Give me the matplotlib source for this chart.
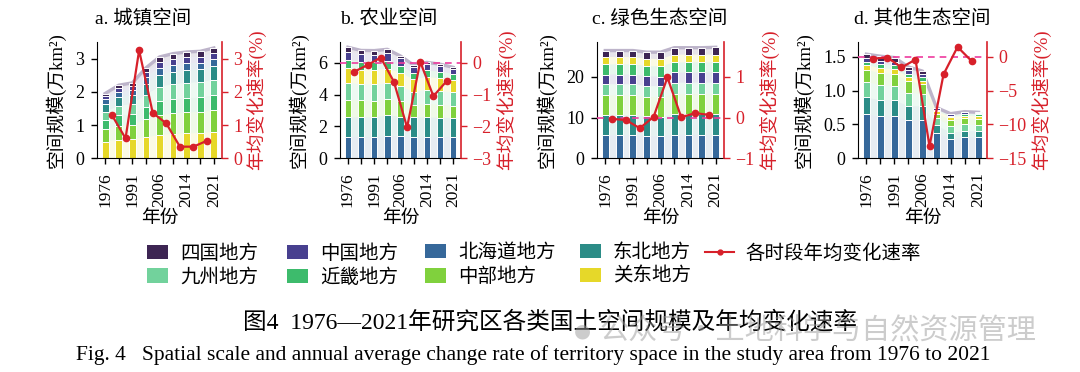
import matplotlib.pyplot as plt
from matplotlib.lines import Line2D
from matplotlib.patches import Patch
import numpy as np

plt.rcParams['font.family'] = ['Liberation Serif', 'Noto Sans CJK SC']
plt.rcParams['axes.unicode_minus'] = True

W, H = 1080, 372

years = ['1976', '1987', '1991', '1997', '2006', '2009', '2014', '2016', '2021']
tick_labels = ['1976', '', '1991', '', '2006', '', '2014', '', '2021']

colors = {
    '四国地方': '#3d2553',
    '中国地方': '#48408f',
    '北海道地方': '#36689a',
    '东北地方': '#2b8c87',
    '九州地方': '#72d29c',
    '近畿地方': '#3dbb6c',
    '中部地方': '#80d13d',
    '关东地方': '#e6d829',
}

# a. 城镇空间 (万km2), stack order bottom -> top
town = {
    '关东地方': [0.50, 0.56, 0.57, 0.63, 0.70, 0.73, 0.75, 0.76, 0.80],
    '中部地方': [0.37, 0.42, 0.44, 0.54, 0.60, 0.62, 0.63, 0.63, 0.66],
    '近畿地方': [0.28, 0.31, 0.32, 0.38, 0.42, 0.43, 0.43, 0.44, 0.44],
    '九州地方': [0.25, 0.29, 0.30, 0.37, 0.43, 0.45, 0.46, 0.46, 0.47],
    '东北地方': [0.23, 0.26, 0.27, 0.33, 0.37, 0.38, 0.39, 0.39, 0.40],
    '北海道地方': [0.15, 0.17, 0.17, 0.20, 0.20, 0.20, 0.20, 0.20, 0.21],
    '中国地方': [0.09, 0.11, 0.11, 0.14, 0.17, 0.18, 0.18, 0.18, 0.19],
    '四国地方': [0.08, 0.08, 0.09, 0.13, 0.16, 0.16, 0.16, 0.16, 0.15],
}
town_rate = [1.30, 0.60, 3.25, 1.37, 1.05, 0.35, 0.35, 0.53]

# b. 农业空间
farm = {
    '北海道地方': [1.35, 1.33, 1.33, 1.42, 1.38, 1.35, 1.35, 1.33, 1.33],
    '东北地方': [1.22, 1.24, 1.24, 1.27, 1.24, 1.22, 1.22, 1.21, 1.20],
    '中部地方': [1.12, 1.06, 1.05, 1.02, 0.95, 0.78, 0.85, 0.82, 0.78],
    '九州地方': [1.05, 1.02, 1.02, 1.00, 0.95, 0.82, 0.88, 0.86, 0.84],
    '关东地方': [0.95, 0.92, 0.92, 0.90, 0.86, 0.78, 0.80, 0.80, 0.78],
    '近畿地方': [0.50, 0.48, 0.48, 0.47, 0.44, 0.40, 0.42, 0.41, 0.38],
    '中国地方': [0.50, 0.47, 0.47, 0.50, 0.45, 0.38, 0.38, 0.36, 0.30],
    '四国地方': [0.28, 0.25, 0.25, 0.26, 0.15, 0.12, 0.12, 0.12, 0.10],
}
farm_rate = [-0.28, -0.07, 0.16, -0.60, -2.03, 0.03, -1.05, -0.58]

# c. 绿色生态空间
green = {
    '北海道地方': [5.7, 5.7, 5.7, 5.5, 5.4, 5.8, 5.8, 5.8, 5.8],
    '东北地方': [4.9, 4.9, 4.9, 4.8, 4.8, 5.0, 5.0, 5.0, 5.0],
    '中部地方': [4.9, 4.9, 4.9, 4.8, 4.8, 5.0, 5.0, 5.0, 5.0],
    '九州地方': [2.7, 2.7, 2.7, 2.7, 2.7, 2.8, 2.8, 2.8, 2.8],
    '中国地方': [2.4, 2.4, 2.4, 2.4, 2.4, 2.5, 2.5, 2.5, 2.5],
    '近畿地方': [2.5, 2.5, 2.5, 2.5, 2.5, 2.5, 2.5, 2.5, 2.5],
    '关东地方': [1.8, 1.8, 1.8, 1.8, 1.8, 1.9, 1.9, 1.9, 1.9],
    '四国地方': [1.6, 1.6, 1.6, 1.6, 1.7, 1.7, 1.7, 1.7, 1.8],
}
green_rate = [-0.03, -0.06, -0.26, 0.02, 0.99, 0.01, 0.11, 0.07]

# d. 其他生态空间
other = {
    '北海道地方': [0.65, 0.62, 0.62, 0.56, 0.57, 0.38, 0.29, 0.31, 0.31],
    '东北地方': [0.25, 0.24, 0.24, 0.21, 0.20, 0.11, 0.09, 0.09, 0.09],
    '九州地方': [0.23, 0.22, 0.21, 0.20, 0.18, 0.10, 0.10, 0.10, 0.09],
    '中部地方': [0.18, 0.18, 0.18, 0.17, 0.15, 0.07, 0.09, 0.09, 0.09],
    '关东地方': [0.07, 0.07, 0.07, 0.06, 0.05, 0.04, 0.04, 0.04, 0.04],
    '近畿地方': [0.05, 0.06, 0.06, 0.05, 0.05, 0.02, 0.02, 0.03, 0.03],
    '中国地方': [0.05, 0.05, 0.05, 0.05, 0.05, 0.02, 0.02, 0.02, 0.02],
    '四国地方': [0.06, 0.07, 0.06, 0.05, 0.04, 0.01, 0.01, 0.01, 0.01],
}
other_rate = [-0.25, -0.10, -1.57, -0.40, -13.2, -2.58, 1.47, -0.62]

red = '#d7202a'
pink = '#ee3b9e'
fig = plt.figure(figsize=(W / 100, H / 100), dpi=100)


def draw_panel(left, right, title, title_x, stack, rate, ylim, yticks, yticklabels,
               rlim, rticks, zero_line=True):
    ax = fig.add_axes([left / W, 1 - 158.3 / H, (right - left) / W, 116.3 / H])
    x = np.arange(len(years))
    names = list(stack.keys())
    vals = [np.array(stack[n]) for n in names]
    ax.stackplot(x, vals, colors=[colors[n] for n in names], alpha=0.12, lw=0, zorder=1)
    ax.plot(x, np.sum(vals, axis=0), color='#bdb4ca', lw=2.4, zorder=1.5)
    bottom = np.zeros(len(x))
    for n, v in zip(names, vals):
        ax.bar(x, v, 0.5, bottom=bottom, color=colors[n], edgecolor='white',
               linewidth=0.7, zorder=2)
        bottom += v
    ax.set_xlim(-0.6, 8.6)
    ax.set_ylim(*ylim)
    ax.set_yticks(yticks)
    ax.set_yticklabels(yticklabels)
    ax.set_xticks(x)
    ax.set_xticklabels(tick_labels, rotation=90)
    ax.tick_params(axis='y', labelsize=13, length=4, width=1, pad=5)
    ax.tick_params(axis='x', labelsize=12.5, length=4, width=1, pad=6)
    ax.spines['top'].set_visible(False)
    ax.spines['right'].set_visible(False)
    ax.set_ylabel('空间规模(万km²)', fontsize=13.5, labelpad=7)
    ax.set_xlabel('年份', fontsize=13.5, labelpad=2)

    ax2 = ax.twinx()
    if zero_line:
        ax2.axhline(0, color=pink, ls=(0, (4, 3)), lw=1.2)
    ax2.plot(x[:-1] + 0.5, rate, color=red, marker='o', ms=4.5, lw=1.6)
    ax2.set_ylim(*rlim)
    ax2.set_yticks(rticks)
    for s in ['top', 'left', 'bottom']:
        ax2.spines[s].set_visible(False)
    ax2.spines['right'].set_color(red)
    ax2.spines['right'].set_linewidth(1.2)
    ax2.tick_params(axis='y', colors=red, labelsize=13, length=4, width=1, pad=4)
    ax2.set_ylabel('年均变化速率(%)', color=red, fontsize=13.5, labelpad=3)
    fig.text(title_x / W, 1 - 19 / H, title, ha='center', va='center', fontsize=14)


draw_panel(97, 222, 'a. 城镇空间', 143, town, town_rate,
           (0, 3.5), [0, 1, 2, 3], ['0', '1', '2', '3'],
           (0, 3.5), [0, 1, 2, 3], zero_line=False)
draw_panel(340, 461, 'b. 农业空间', 389, farm, farm_rate,
           (0, 7.3), [0, 2, 4, 6], ['0', '2', '4', '6'],
           (-3, 0.65), [-3, -2, -1, 0])
draw_panel(597, 724, 'c. 绿色生态空间', 660, green, green_rate,
           (0, 28.6), [0, 10, 20], ['0', '10', '20'],
           (-1, 1.86), [-1, 0, 1])
draw_panel(858, 987, 'd. 其他生态空间', 922, other, other_rate,
           (0, 1.72), [0, 0.5, 1.0, 1.5], ['0', '0.5', '1.0', '1.5'],
           (-15, 2.2), [-15, -10, -5, 0])

# legend, laid out column by column
legend_cols = [
    (147, ['四国地方', '九州地方']),
    (287, ['中国地方', '近畿地方']),
    (425, ['北海道地方', '中部地方']),
    (580, ['东北地方', '关东地方']),
]
for xpos, names in legend_cols:
    handles = [Patch(facecolor=colors[n], edgecolor='none') for n in names]
    fig.legend(handles, names, loc='upper left', bbox_to_anchor=(xpos / W, 1 - 244 / H),
               frameon=False, fontsize=14, handlelength=1.1, handleheight=0.75,
               handletextpad=0.6, labelspacing=0.3, borderpad=0, borderaxespad=0)
rate_handle = Line2D([], [], color=red, marker='o', ms=3.5, lw=1.5)
fig.legend([rate_handle], ['各时段年均变化速率'], loc='upper left',
           bbox_to_anchor=(705 / W, 1 - 244 / H), frameon=False, fontsize=14,
           handlelength=1.5, handletextpad=0.6, borderpad=0, borderaxespad=0)

fig.text(550 / W, 1 - 322 / H, '图4  1976—2021年研究区各类国土空间规模及年均变化速率',
         ha='center', va='center', fontsize=17)
fig.text(533 / W, 1 - 355 / H,
         'Fig. 4   Spatial scale and annual average change rate of territory space in the study area from 1976 to 2021',
         ha='center', va='center', fontsize=15.5)
fig.text(600 / W, 1 - 330 / H, '公众号·土地科学与自然资源管理', ha='left', va='center',
         fontsize=21, color='#9a9a9a', alpha=0.5,
         family=['Noto Sans CJK SC', 'DejaVu Sans'])
fig.text(582 / W, 1 - 331 / H, '●', ha='center', va='center', fontsize=14,
         color='#9a9a9a', alpha=0.5, family=['DejaVu Sans'])

fig.savefig('out.png', dpi=100)
